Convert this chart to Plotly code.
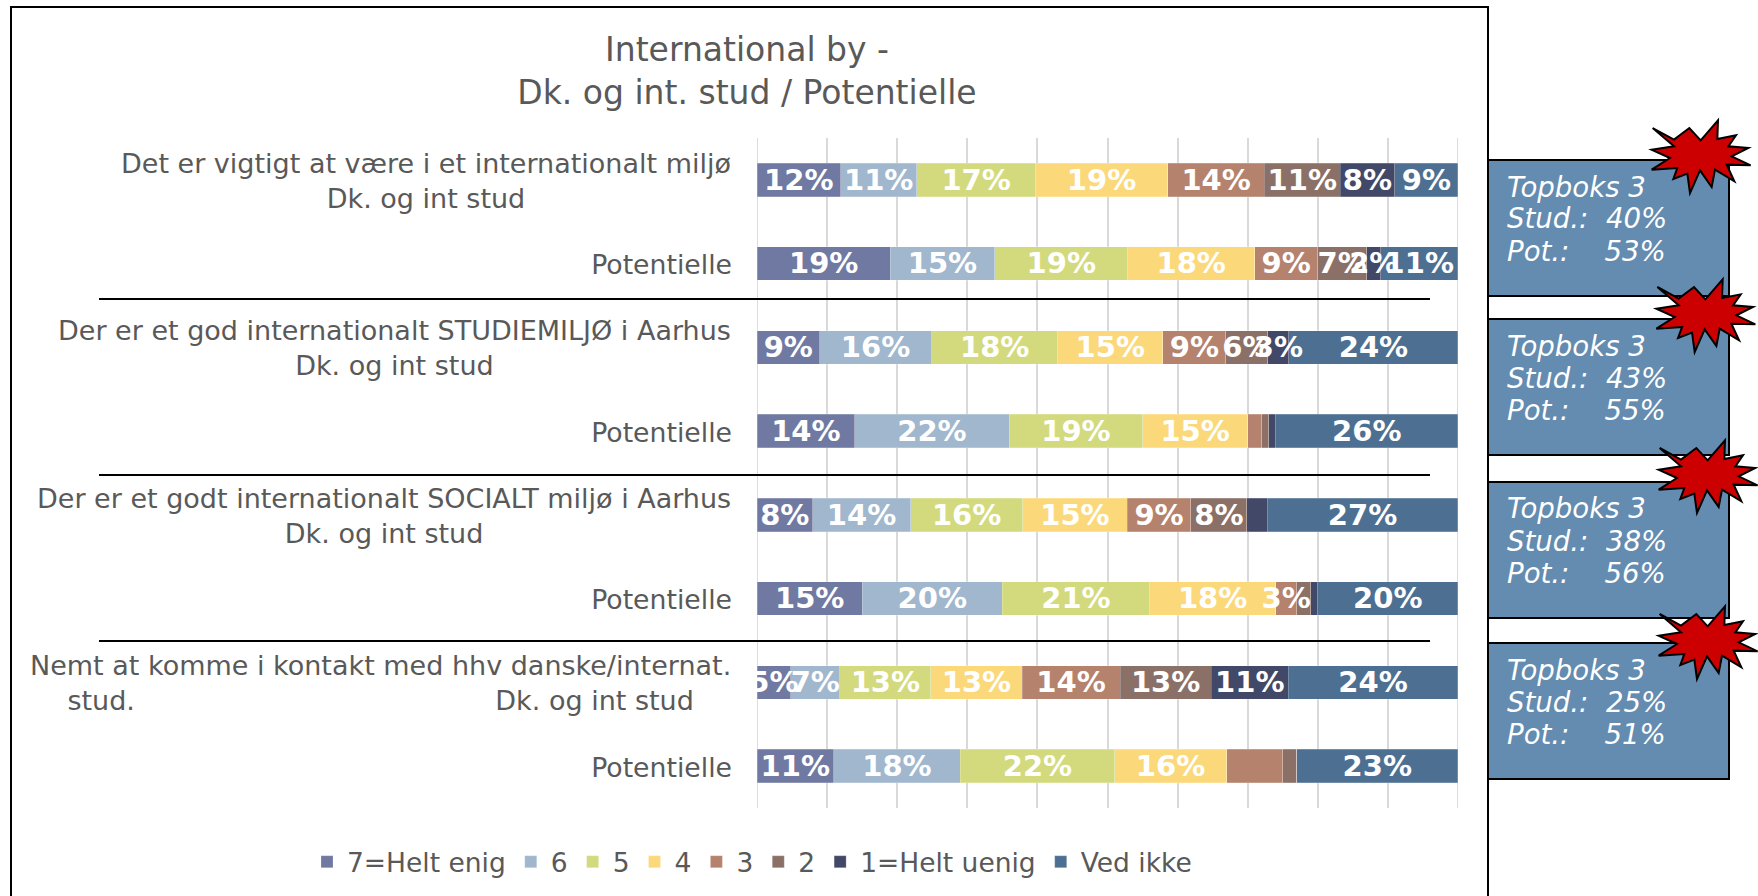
import plotly.graph_objects as go

W, H = 1758, 896

# Row order, top to bottom
row_labels = ["", "Potentielle", "", "Potentielle", "", "Potentielle", "", "Potentielle"]
long_labels = {
    0: "Det er vigtigt at være i et internationalt miljø<br>Dk. og int stud",
    2: "Der er et god internationalt STUDIEMILJØ i Aarhus<br>Dk. og int stud",
    4: "Der er et godt internationalt SOCIALT miljø i Aarhus<br>Dk. og int stud",
    6: "Nemt at komme i kontakt med hhv danske/internat.<br>stud." + "\u00a0" * 42 + "Dk. og int stud",
}

series_names = ["7=Helt enig", "6", "5", "4", "3", "2", "1=Helt uenig", "Ved ikke"]
series_colors = ["#7079A1", "#A0B7CE", "#D3DA7D", "#FBD97B", "#B5826E", "#8B7067", "#424868", "#4D7092"]

s7 = [11.9, 19.0, 8.9, 13.9, 7.9, 15.0, 4.8, 10.9]
s6 = [10.9, 14.9, 16.0, 22.1, 14.0, 20.0, 7.0, 18.1]
s5 = [16.9, 19.0, 18.0, 19.0, 16.0, 21.0, 13.0, 22.0]
s4 = [18.9, 18.1, 15.0, 15.0, 14.9, 18.0, 13.0, 16.0]
s3 = [13.8, 9.0, 9.0, 2.0, 9.1, 3.0, 14.0, 8.0]
s2 = [10.8, 7.0, 6.0, 1.0, 8.0, 2.0, 13.0, 2.0]
s1 = [7.8, 2.0, 3.0, 1.0, 2.9, 1.0, 11.0, 0.0]
s0 = [9.0, 11.0, 24.1, 26.0, 27.2, 20.0, 24.2, 23.0]
series_values = [s7, s6, s5, s4, s3, s2, s1, s0]

# (row, series) segments whose value label is not shown
unlabelled = {(3, 4), (3, 5), (3, 6), (4, 6), (5, 5), (5, 6), (7, 4), (7, 5), (7, 6)}

title_text = "International by -<br>Dk. og int. stud / Potentielle"
box_stud = ["40%", "43%", "38%", "25%"]
box_pot = ["53%", "55%", "56%", "51%"]

TEXT = "#595959"
FONT = "DejaVu Sans"
GRID = "#D9D9D9"


def px(x):
    return x / W


def py(y):
    return 1 - y / H


rows = list(range(len(row_labels)))
fig = go.Figure()

for name, color, vals in zip(series_names, series_colors, series_values):
    fig.add_trace(go.Bar(
        y=rows, x=vals, name=name, orientation="h",
        marker=dict(color=color, line=dict(color="rgba(255,255,255,0.35)", width=0.6)),
        hoverinfo="x+name",
    ))

# Value labels sit in a text layer above all the bars so that they overlap as in the reference
cum = [0.0] * len(rows)
for si, vals in enumerate(series_values):
    xs, ys, ts = [], [], []
    for r, v in enumerate(vals):
        if (r, si) not in unlabelled and v > 0:
            xs.append(cum[r] + v / 2)
            ys.append(r + 0.03)
            ts.append(f"{round(v)}%")
        cum[r] += v
    fig.add_trace(go.Scatter(
        x=xs, y=ys, text=ts, mode="text", showlegend=False, hoverinfo="skip",
        textposition="middle center",
        textfont=dict(family=FONT, size=29, color="white", weight="bold"),
    ))

shapes = []
# Chart frame
shapes.append(dict(type="rect", xref="paper", yref="paper", x0=px(11), x1=px(1488), y0=py(7), y1=py(905),
                   line=dict(color="black", width=2), fillcolor="rgba(0,0,0,0)", layer="below"))
# Gridlines at both ends of the value axis, which the axis itself leaves out
for xv in [0, 100]:
    shapes.append(dict(type="line", xref="x", yref="paper", x0=xv, x1=xv, y0=py(808), y1=py(138),
                       line=dict(color=GRID, width=1.5), layer="below"))
# Group separators
for y in [299, 475, 641]:
    shapes.append(dict(type="line", xref="paper", yref="paper", x0=px(99), x1=px(1430), y0=py(y), y1=py(y),
                       line=dict(color="black", width=2)))

box_tops = [160, 319, 482, 643]
box_h = 136
star_centres = [(1700, 153), (1704.7, 312), (1707, 473), (1707, 639)]
star_pts = [(548, 85), (612, 120), (658, 85), (692, 122), (744, 62), (742, 118), (798, 107), (775, 140),
            (835, 145), (785, 170), (842, 197), (770, 195), (793, 245), (735, 210), (725, 262), (690, 212),
            (660, 280), (652, 222), (610, 238), (622, 205), (545, 210), (600, 175), (545, 150), (612, 140)]
for t in box_tops:
    shapes.append(dict(type="rect", xref="paper", yref="paper", x0=px(1488), x1=px(1729), y0=py(t), y1=py(t + box_h),
                       line=dict(color="black", width=2), fillcolor="#648BB0"))
for cx, cy in star_centres:
    d = "M" + " L".join(f"{px(cx + (a - 690) / 3):.5f},{py(cy + (b - 160) / 3):.5f}" for a, b in star_pts) + " Z"
    shapes.append(dict(type="path", xref="paper", yref="paper", path=d,
                       line=dict(color="black", width=2), fillcolor="#CC0000"))

annotations = []
for r, txt in long_labels.items():
    annotations.append(dict(
        x=px(733), xref="paper", y=r, yref="y", xanchor="right", yanchor="middle", align="center",
        yshift=-1, text=txt, showarrow=False, font=dict(family=FONT, size=27, color=TEXT),
    ))
for t, st, pt in zip(box_tops, box_stud, box_pot):
    lines = ["Topboks 3", f"Stud.:\u00a0\u00a0{st}", f"Pot.:\u00a0\u00a0\u00a0\u00a0{pt}"]
    for i, line in enumerate(lines):
        annotations.append(dict(
            x=px(1505), xref="paper", y=py(t + 27 + 32 * i), yref="paper", xanchor="left", yanchor="middle",
            text=line, showarrow=False, font=dict(family=FONT, size=27.6, color="white", style="italic"),
        ))

fig.update_layout(
    width=W, height=H, margin=dict(l=0, r=0, t=0, b=0), autosize=False,
    paper_bgcolor="white", plot_bgcolor="white",
    barmode="stack", bargap=0.6,
    font=dict(family=FONT, color=TEXT),
    title=dict(text=title_text, x=px(747), xanchor="center", xref="paper",
               y=py(61), yref="paper", yanchor="top",
               font=dict(family=FONT, size=33, color=TEXT)),
    xaxis=dict(domain=[px(757), px(1458)], range=[-0.02, 100.02], dtick=10, showticklabels=False,
               showgrid=True, gridcolor=GRID, gridwidth=1.5, zeroline=False, showline=False, ticks=""),
    yaxis=dict(domain=[py(808), py(138)], range=[7.5, -0.5], tickmode="array",
               tickvals=[r + 0.015 for r in rows],
               ticktext=row_labels, showgrid=False, zeroline=False, showline=False, ticks="",
               ticklabelstandoff=24, tickfont=dict(family=FONT, size=26.7, color=TEXT)),
    legend=dict(orientation="h", x=px(752), xanchor="center", y=py(862), yanchor="middle",
                font=dict(family=FONT, size=26.5, color=TEXT), traceorder="normal"),
    shapes=shapes, annotations=annotations,
)

fig.write_html("out.html", config={"displayModeBar": False},
               post_script="document.body.style.margin='0';document.body.style.overflow='hidden';")
